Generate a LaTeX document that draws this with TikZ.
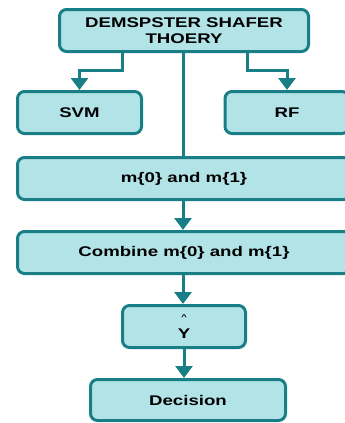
\documentclass[tikz,border=0pt]{standalone}
\usepackage{fontspec}
\setmainfont{Liberation Sans}[FakeStretch=1.33]
\usetikzlibrary{arrows.meta}
\definecolor{boxfill}{HTML}{B1E3E7}
\definecolor{boxline}{HTML}{1A7E86}
\tikzset{
  box/.style={draw=boxline, fill=boxfill, line width=3pt, rounded corners=7pt,
    inner sep=0pt, font=\fontsize{14}{16}\selectfont\bfseries, align=center},
  conn/.style={draw=boxline, line width=3pt},
  arr/.style={conn, -{Triangle[width=17pt,length=12pt]}}
}
\begin{document}
\begin{tikzpicture}[x=1pt,y=-1pt]
\useasboundingbox (0,0) rectangle (345,423);
\clip (0,0) rectangle (345,423);
\node[box, minimum width=249pt, minimum height=42pt] (top) at (184,30.5) {DEMSPSTER SHAFER\\[0.5pt]THOERY};
\node[box, minimum width=124pt, minimum height=42pt] (svm) at (79.5,112.5) {SVM};
\node[box, minimum width=124pt, minimum height=42pt] (rf) at (287,112.5) {RF};
\node[box, minimum width=333pt, minimum height=42pt] (m0) at (184,178.5) {m\{0\} and m\{1\}};
\node[box, minimum width=333pt, minimum height=42pt] (comb) at (184,252.5) {Combine m\{0\} and m\{1\}};
\node[box, minimum width=123pt, minimum height=42pt] (y) at (184,326.5) {{\fontsize{7}{7}\selectfont\textasciicircum}\\[3pt]Y};
\node[box, minimum width=195pt, minimum height=41pt] (dec) at (188,400) {Decision};
\coordinate (lb) at (122,70);
\coordinate (rb) at (247,70);
\draw[arr] (top.south -| lb) -- (lb) -| (svm.north);
\draw[arr] (top.south -| rb) -- (rb) -| (rf.north);
\draw[conn] (top.south -| 183,0) -- (m0.north -| 183,0);
\draw[arr] (m0.south -| 183,0) -- (comb.north -| 183,0);
\draw[arr] (comb.south -| 183,0) -- (y.north -| 183,0);
\draw[arr] (y.south -| 184,0) -- (dec.north -| 184,0);
\end{tikzpicture}
\end{document}
